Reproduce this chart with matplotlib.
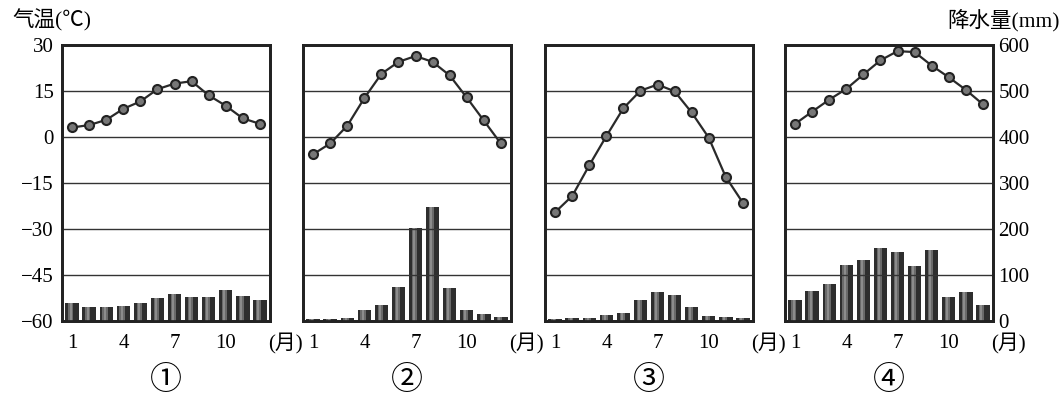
import numpy as np
import matplotlib.pyplot as plt

plt.rcParams['font.family'] = ['Liberation Serif', 'Noto Sans CJK SC', 'DejaVu Sans']

months = np.arange(1, 13)
panel_labels = ['①', '②', '③', '④']

temp_1 = [3.1, 3.9, 5.6, 9.2, 11.6, 15.6, 17.4, 18.2, 13.6, 10.2, 6.1, 4.3]
temp_2 = [-5.6, -2.1, 3.7, 12.7, 20.6, 24.5, 26.4, 24.5, 20.1, 12.9, 5.4, -2.1]
temp_3 = [-24.5, -19.2, -9.2, 0.3, 9.4, 15.1, 17.1, 14.9, 8.0, -0.2, -13.0, -21.4]
temp_4 = [4.3, 8.3, 12.2, 15.7, 20.4, 25.0, 28.0, 27.7, 23.3, 19.5, 15.4, 10.7]

prec_1 = [39, 30, 30, 33, 39, 49, 59, 52, 52, 68, 55, 46]
prec_2 = [5, 5, 6, 23, 35, 74, 202, 247, 71, 23, 15, 9]
prec_3 = [5, 6, 7, 12, 18, 45, 62, 56, 31, 11, 9, 7]
prec_4 = [46, 65, 81, 121, 132, 158, 150, 119, 154, 52, 62, 35]

temps = [temp_1, temp_2, temp_3, temp_4]
precs = [prec_1, prec_2, prec_3, prec_4]

temp_ticks = [30, 15, 0, -15, -30, -45, -60]
prec_ticks = [600, 500, 400, 300, 200, 100, 0]
month_ticks = [1, 4, 7, 10]

W, H = 1064, 398
fig = plt.figure(figsize=(W / 100, H / 100), dpi=100)

lefts = [62, 303, 545, 785]
pw = 208
top_px, bot_px = 45, 321

for i in range(4):
    ax = fig.add_axes([lefts[i] / W, 1 - bot_px / H, pw / W, (bot_px - top_px) / H])
    ax2 = ax.twinx()
    ax.set_zorder(ax2.get_zorder() + 1)
    ax.patch.set_visible(False)

    ax.set_ylim(-60, 30)
    ax2.set_ylim(0, 600)
    ax.set_xlim(0.4, 12.6)

    for t in temp_ticks[1:-1]:
        ax.axhline(t, color='#333333', lw=1.0, zorder=0)

    # precipitation bars with shaded look
    ax2.bar(months, precs[i], width=0.8, color='#2e2e2e', zorder=2)
    ax2.bar(months - 0.08, precs[i], width=0.3, color='#6a6a6a', zorder=3)
    ax2.bar(months - 0.08, precs[i], width=0.12, color='#8c8c8c', zorder=4)

    ax.plot(months, temps[i], color='#2a2a2a', lw=1.6, marker='o', markersize=6.5,
            markerfacecolor='#777777', markeredgecolor='#222222', markeredgewidth=1.5, zorder=5)

    for a in (ax, ax2):
        for s in a.spines.values():
            s.set_linewidth(2.0)
            s.set_color('#222222')
        a.tick_params(length=0)

    ax.set_xticks(month_ticks)
    ax.set_xticklabels([str(m) for m in month_ticks], fontsize=15)
    ax.tick_params(axis='x', pad=9)
    ax.annotate('(月)', xy=(13.5, 0), xycoords=('data', 'axes fraction'),
                xytext=(0, -9), textcoords='offset points', ha='center', va='top', fontsize=15)

    if i == 0:
        ax.set_yticks(temp_ticks)
        ax.set_yticklabels([f'{t}' if t >= 0 else f'\u2212{-t}' for t in temp_ticks], fontsize=15)
        ax.tick_params(axis='y', pad=6)
    else:
        ax.set_yticks([])
    if i == 3:
        ax2.set_yticks(prec_ticks)
        ax2.set_yticklabels([str(p) for p in prec_ticks], fontsize=15)
        ax2.tick_params(axis='y', pad=4)
    else:
        ax2.set_yticks([])

    fig.text((lefts[i] + pw / 2) / W, 1 - 380 / H, panel_labels[i], ha='center', va='center',
             fontsize=23, family=['Noto Sans CJK SC'])

fig.text(12 / W, 1 - 20 / H, '气温(℃)', ha='left', va='center', fontsize=15.5)
fig.text(1060 / W, 1 - 20 / H, '降水量(mm)', ha='right', va='center', fontsize=15.5)

fig.savefig('out.png', dpi=100)
